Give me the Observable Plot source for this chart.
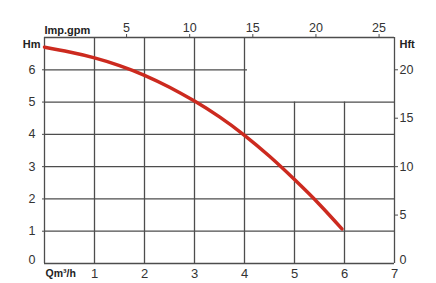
<!DOCTYPE html>
<html>
<head>
<meta charset="utf-8">
<script src="https://cdn.jsdelivr.net/npm/d3@7"></script>
<script src="https://cdn.jsdelivr.net/npm/@observablehq/plot@0.6"></script>
<style>
  html, body { margin: 0; padding: 0; background: #fff; }
  #chart { width: 436px; height: 283px; }
</style>
</head>
<body>
<div id="chart"></div>
<script>
// Pump curve: flow (m³/h) vs head (m)
const flowQ = [0, 0.5, 1, 1.5, 2, 2.5, 3, 3.5, 4, 4.5, 5, 5.5, 5.95];
const headM = [6.7, 6.55, 6.37, 6.13, 5.83, 5.46, 5.03, 4.54, 3.97, 3.32, 2.6, 1.83, 1.07];

// Axis tick labels
const qTicks = [1, 2, 3, 4, 5, 6, 7];
const mTicks = [1, 2, 3, 4, 5, 6];
const gpmTicks = [5, 10, 15, 20, 25];
const ftTicks = [5, 10, 15, 20];

// Secondary-scale conversions
const gpmToQ = g => 0.379 + g * 0.2525;
const qToGpm = q => Math.round((q - 0.379) / 0.2525);
const ftToM = f => f * 0.3;
const mToFt = m => Math.round(m / 0.3);

const curve = flowQ.map((q, i) => ({q, h: headM[i]}));

const gridCol = "#4d4d4d";
const textCol = "#333";
const font = "'Liberation Sans', Arial, Helvetica, sans-serif";

const chart = Plot.plot({
  width: 436,
  height: 283,
  marginLeft: 44,
  marginRight: 42,
  marginTop: 37,
  marginBottom: 20,
  style: {fontFamily: font, fontSize: "12.5px", color: textCol, background: "#fff"},
  x: {domain: [0, 7], axis: null},
  y: {domain: [0, 7], axis: null},
  marks: [
    // grid: full-height verticals 1–4, shorter verticals 5–6
    Plot.ruleX([1, 2, 3, 4], {y1: 0, y2: 7, stroke: gridCol, strokeWidth: 1.3}),
    Plot.ruleX([5, 6], {y1: 0, y2: 5, stroke: gridCol, strokeWidth: 1.3}),
    Plot.ruleY([1, 2, 3, 4, 5], {x1: 0, x2: 7, stroke: gridCol, strokeWidth: 1.3}),
    Plot.ruleY([6], {x1: 0, x2: 4.06, stroke: gridCol, strokeWidth: 1.3}),
    // frame
    Plot.ruleX([0, 7], {y1: 0, y2: 7, stroke: gridCol, strokeWidth: 1.3}),
    Plot.ruleY([0, 7], {x1: 0, x2: 7, stroke: gridCol, strokeWidth: 1.3}),
    // bottom axis (m³/h)
    Plot.axisX(qTicks, {anchor: "bottom", label: null, tickSize: 0, tickPadding: 5, fontSize: 13, fill: textCol}),
    // top axis (Imp. gpm)
    Plot.axisX(gpmTicks.map(gpmToQ), {anchor: "top", label: null, tickSize: 4, tickPadding: 2, tickFormat: qToGpm, stroke: gridCol, fill: textCol}),
    // left axis (m)
    Plot.axisY(mTicks, {anchor: "left", label: null, tickSize: 2, tickPadding: 7, stroke: gridCol, fill: textCol}),
    // right axis (ft)
    Plot.axisY(ftTicks.map(ftToM), {anchor: "right", label: null, tickSize: 3, tickPadding: 2, tickFormat: mToFt, stroke: gridCol, fill: textCol}),
    // zero labels (sit slightly above the baseline)
    Plot.text([0], {x: 0, y: 0, text: d => String(d), textAnchor: "end", lineAnchor: "middle", dx: -9, dy: -4, fill: textCol}),
    Plot.text([0], {x: 7, y: 0, text: d => String(d), textAnchor: "start", lineAnchor: "middle", dx: 5, dy: -4, fill: textCol}),
    // axis titles
    Plot.text(["Hm"], {frameAnchor: "top-left", textAnchor: "end", lineAnchor: "middle", dx: -4, dy: 7, fontWeight: "bold", fontSize: 11, fill: "#222"}),
    Plot.text(["Imp.gpm"], {frameAnchor: "top-left", textAnchor: "start", lineAnchor: "middle", dx: 0, dy: -7.5, fontWeight: "bold", fontSize: 11, fill: "#222"}),
    Plot.text(["Hft"], {frameAnchor: "top-right", textAnchor: "start", lineAnchor: "middle", dx: 5, dy: 7, fontWeight: "bold", fontSize: 11, fill: "#222"}),
    Plot.text(["Qm³/h"], {frameAnchor: "bottom-left", textAnchor: "start", lineAnchor: "middle", dx: 1, dy: 10.5, fontWeight: "bold", fontSize: 10.5, fill: "#222"}),
    // pump curve
    Plot.line(curve, {x: "q", y: "h", curve: "natural", stroke: "#cc2a1f", strokeWidth: 3.5, strokeLinecap: "round"})
  ]
});
document.getElementById("chart").appendChild(chart);
</script>
</body>
</html>
